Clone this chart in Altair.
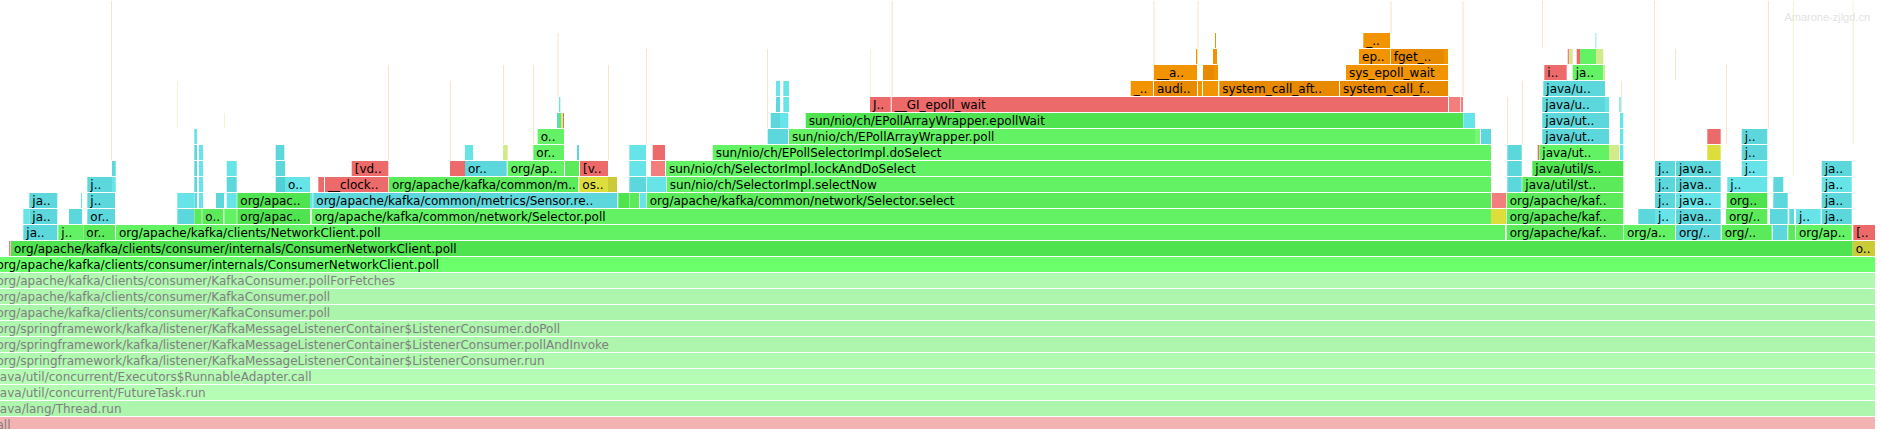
import altair as alt
import pandas as pd

# Flame graph frames per stack level: (start, end, label, kind)
level_0 = [(-6.5, 1875, "all", "root")]
level_1 = [(-6.5, 1875, "java/lang/Thread.run", "fadB")]
level_2 = [(-6.5, 1875, "java/util/concurrent/FutureTask.run", "fadD")]
level_3 = [(-6.5, 1875, "java/util/concurrent/Executors$RunnableAdapter.call", "fadD")]
level_4 = [(-6.5, 1875, "org/springframework/kafka/listener/KafkaMessageListenerContainer$ListenerConsumer.run", "fadA")]
level_5 = [(-6.5, 1875, "org/springframework/kafka/listener/KafkaMessageListenerContainer$ListenerConsumer.pollAndInvoke", "fadB")]
level_6 = [(-6.5, 1875, "org/springframework/kafka/listener/KafkaMessageListenerContainer$ListenerConsumer.doPoll", "fadB")]
level_7 = [(-6.5, 1875, "org/apache/kafka/clients/consumer/KafkaConsumer.poll", "fadC")]
level_8 = [(-6.5, 1875, "org/apache/kafka/clients/consumer/KafkaConsumer.poll", "fadB")]
level_9 = [(-6.5, 1875, "org/apache/kafka/clients/consumer/KafkaConsumer.pollForFetches", "fadA")]
level_10 = [(-6.5, 1875, "org/apache/kafka/clients/consumer/internals/ConsumerNetworkClient.poll", "top")]
level_11 = [(9, 10.5, "", "nat2"),
            (11, 1852.7, "org/apache/kafka/clients/consumer/internals/ConsumerNetworkClient.poll", "jv1"),
            (1852.7, 1875, "o..", "cpp2")]
level_12 = [(23.3, 57.3, "ja..", "in1"), (58.3, 83, "j..", "jv3"), (83.3, 115, "or..", "jv2"),
            (116, 1505, "org/apache/kafka/clients/NetworkClient.poll", "jv3"),
            (1506.7, 1623.3, "org/apache/kaf..", "jv2"), (1624, 1675, "org/a..", "jv3"),
            (1676, 1720.7, "org/..", "in1"), (1721.7, 1771.7, "org/..", "jv2"),
            (1772.7, 1787.3, "", "in1"), (1788.3, 1795, "", "jv2"),
            (1796, 1851.7, "org/ap..", "jv3"), (1853.3, 1875, "[..", "nat1")]
level_13 = [(23.3, 29, "", "in2"), (29.3, 57.3, "ja..", "in1"), (69, 82, "", "in1"),
            (87.3, 115, "or..", "in1"), (177.3, 194, "", "in1"), (194.3, 201.7, "", "jv2"),
            (202.3, 223.3, "o..", "jv2"), (224.3, 236.7, "", "jv3"), (237.3, 310, "org/apac..", "jv1"),
            (311.7, 1491, "org/apache/kafka/common/network/Selector.poll", "jv3"),
            (1491, 1506, "", "cpp1"), (1506.7, 1623.3, "org/apache/kaf..", "jv2"),
            (1638.3, 1655, "", "in1"), (1655, 1675, "j..", "in2"), (1676, 1720.7, "java..", "in1"),
            (1726, 1767.3, "org/..", "jv2"), (1770, 1787.7, "", "in1"), (1789.3, 1794, "", "in1"),
            (1796, 1820.7, "j..", "in2"), (1821.7, 1851.7, "ja..", "in1")]
level_14 = [(29.3, 57.3, "ja..", "in1"), (81, 82, "", "in2"), (87.3, 115, "j..", "in1"),
            (177.3, 194, "", "in2"), (194.3, 197, "", "in1"), (199, 203, "", "in2"),
            (216, 224, "", "in1"), (226.7, 236.7, "", "in2"), (237.3, 310, "org/apac..", "jv1"),
            (310, 312.7, "", "in2"),
            (313.3, 617.3, "org/apache/kafka/common/metrics/Sensor.re..", "in1"),
            (618.3, 629, "", "jv1"), (629.3, 639, "", "jv2"), (640, 646, "", "in2"),
            (646.7, 1491, "org/apache/kafka/common/network/Selector.select", "jv2"),
            (1491.7, 1506, "", "nat2"), (1506.7, 1623.3, "org/apache/kaf..", "jv2"),
            (1655, 1675, "j..", "in1"), (1676, 1720.7, "java..", "in2"),
            (1726.7, 1767.3, "org..", "jv1"), (1773.3, 1787.7, "", "in1"),
            (1821.7, 1851.7, "ja..", "in1")]
level_15 = [(87.3, 112, "j..", "in1"), (112, 115.7, "", "in2"), (194.3, 197, "", "in1"),
            (199, 203, "", "in2"), (226.7, 236.7, "", "in1"), (275.7, 285, "", "in3"),
            (285, 310, "o..", "in2"), (318.3, 324, "", "nat1"), (325, 388.3, "__clock..", "nat1"),
            (389, 578.3, "org/apache/kafka/common/m..", "jv2"), (579.3, 608, "os..", "cpp1"),
            (608, 617, "", "cpp2"), (629.3, 646, "", "in1"), (646.7, 666, "", "in2"),
            (666.7, 1491, "sun/nio/ch/SelectorImpl.selectNow", "jv3"),
            (1507.3, 1521.7, "", "in1"), (1522.3, 1623.3, "java/util/st..", "jv2"),
            (1655, 1675, "j..", "in1"), (1676, 1720.7, "java..", "in1"),
            (1727.3, 1767.3, "j..", "in2"), (1773.3, 1783.3, "", "in1"),
            (1821.7, 1851.7, "ja..", "in2")]
level_16 = [(112, 115.7, "", "in1"), (194.3, 197, "", "in1"), (199, 203, "", "in2"),
            (226.7, 236.7, "", "in2"), (275.7, 285, "", "in1"), (351.7, 388.3, "[vd..", "nat1"),
            (450, 465, "", "nat1"), (465, 506.7, "or..", "in1"), (507.7, 564, "org/ap..", "jv3"),
            (565, 579, "", "jv2"), (580, 608, "[v..", "nat1"), (629.3, 646, "", "in2"),
            (651, 665, "", "nat2"),
            (666, 1491, "sun/nio/ch/SelectorImpl.lockAndDoSelect", "jv3"),
            (1507.3, 1521.7, "", "in1"), (1532.3, 1623.3, "java/util/s..", "jv1"),
            (1655, 1675, "j..", "in1"), (1676, 1720.7, "java..", "in1"),
            (1741.7, 1767.3, "j..", "in2"), (1821.7, 1851.7, "ja..", "in1")]
level_17 = [(194.3, 197, "", "in1"), (199, 203, "", "in2"), (275.7, 284.3, "", "in1"),
            (465, 473, "", "in2"), (503, 507.7, "", "yg"), (533.3, 564, "or..", "jv3"),
            (577, 579, "", "in1"), (629.3, 646, "", "in2"), (652.7, 665, "", "nat1"),
            (712.7, 1491, "sun/nio/ch/EPollSelectorImpl.doSelect", "jv3"),
            (1507.3, 1521.7, "", "in1"), (1537.7, 1539, "", "nat1"),
            (1539.3, 1609, "java/ut..", "jv3"), (1609, 1619.3, "", "yg"), (1620, 1623.3, "", "in2"),
            (1707.3, 1720.7, "", "cpp1"), (1741.7, 1767.3, "j..", "in1")]
level_18 = [(194.3, 197, "", "in2"), (537.7, 564, "o..", "jv3"), (767.7, 788, "", "in1"),
            (789, 1475, "sun/nio/ch/EPollArrayWrapper.poll", "jv3"), (1475, 1480, "", "jv4"),
            (1481, 1491, "", "in1"), (1542.3, 1609, "java/ut..", "in1"), (1620, 1623.3, "", "in2"),
            (1707.3, 1720.7, "", "nat1"), (1741.7, 1767.3, "j..", "in1")]
level_19 = [(557, 559, "", "in1"), (559, 561, "", "jv2"), (561, 563, "", "yg"), (563, 564, "", "nat1"),
            (770.7, 780, "", "in1"), (780, 788.3, "", "in2"),
            (805.7, 1463, "sun/nio/ch/EPollArrayWrapper.epollWait", "jv1"),
            (1463.3, 1475, "", "in2"), (1542.3, 1609, "java/ut..", "in1"), (1620, 1623.3, "", "in2")]
level_20 = [(559, 560.3, "", "in2"), (776, 780, "", "in1"), (783.3, 789, "", "in2"),
            (870, 890.7, "J..", "nat1"), (891.7, 1448, "__GI_epoll_wait", "nat1"),
            (1449, 1460, "", "nat2"), (1460.7, 1463, "", "nat2"),
            (1542.3, 1605, "java/u..", "in1"), (1605, 1609, "", "in2"), (1619.3, 1620.7, "", "in2")]
level_21 = [(776, 780, "", "in2"), (783.3, 789, "", "in2"), (1130.7, 1153, "_..", "ker1"),
            (1154, 1197, "audi..", "ker2"), (1198, 1202, "", "ker1"), (1203, 1218, "", "ker1"),
            (1219.3, 1339, "system_call_aft..", "ker2"), (1340, 1448, "system_call_f..", "ker2"),
            (1543.3, 1605, "java/u..", "in1")]
level_22 = [(1154, 1197, "__a..", "ker1"), (1203, 1214, "", "ker2"), (1214, 1218, "", "ker1"),
            (1346, 1448, "sys_epoll_wait", "ker1"), (1544.3, 1566.7, "i..", "nat1"),
            (1572.7, 1603.3, "ja..", "jv3"), (1603.3, 1605, "", "yg")]
level_23 = [(1196, 1197.3, "", "ker1"), (1213, 1217, "", "ker1"), (1359, 1390, "ep..", "ker1"),
            (1390.7, 1444, "fget_..", "ker2"), (1444, 1448, "", "ker1"),
            (1567.7, 1569.3, "", "nat2"), (1569.3, 1572.7, "", "yg"), (1576.7, 1580, "", "nat1"),
            (1580, 1596, "", "jv3"), (1596, 1603.3, "", "yg")]
level_24 = [(1215, 1216, "", "ker1"), (1363.3, 1390, "_..", "ker1"), (1595, 1596.7, "", "inf")]

levels = [level_0, level_1, level_2, level_3, level_4, level_5, level_6, level_7, level_8,
          level_9, level_10, level_11, level_12, level_13, level_14, level_15, level_16,
          level_17, level_18, level_19, level_20, level_21, level_22, level_23, level_24]

# very thin (sub-pixel) deep stacks: x, lowest level, highest level, kind
line_x = [111, 177, 224, 388, 450, 503, 533, 557.5, 608, 646, 767, 870, 891.7, 1153.5,
          1197.5, 1390.5, 1462.5, 1507, 1522, 1542, 1621, 1654, 1675, 1726, 1768, 1793, 1852.7]
line_lo = [17, 19, 19, 17, 17, 18, 18, 21, 17, 18, 19, 21, 21, 22, 24, 25, 21, 18, 18, 24,
           20, 17, 22, 18, 19, 16, 18]
line_hi = [26, 21, 19, 22, 21, 22, 22, 24, 22, 23, 23, 23, 26, 26, 26, 26, 26, 20, 21, 26,
           21, 26, 23, 22, 26, 26, 26]
line_kind = ["fnt1", "fnt2", "fnt2", "fnt1", "fnt1", "fnt1", "fnt1", "fnt1", "fnt1", "fnt1",
             "fnt1", "fnt2", "fnt1", "fnt1", "fnt1", "fnt1", "fnt1", "fnt1", "fnt1", "fnt1",
             "fnt1", "fnt1", "fnt1", "fnt1", "fnt1", "fnt2", "fnt2"]

kind_domain = ["root", "fadA", "fadB", "fadC", "fadD", "top", "jv1", "jv2", "jv3", "jv4",
               "in1", "in2", "in3", "inf", "nat1", "nat2", "ker1", "ker2", "cpp1", "cpp2",
               "yg", "fnt1", "fnt2"]
kind_colors = ["#f4b3b3", "#b1f9b1", "#aef5ae", "#abf4ab", "#b5fcb5", "#6cff6c",
               "#50e350", "#5aea5a", "#63f263", "#79f579",
               "#5cd8dc", "#67e4e8", "#50d0d4", "#bdeff1", "#ec6a6a", "#f47e7e",
               "#f29400", "#e88a00", "#dddd3c", "#cbcb3a",
               "#d2ea8a", "#fbe2c8", "#f6f2cc"]
faded_kinds = {"root", "fadA", "fadB", "fadC", "fadD"}

rows = []
for lv, frames in enumerate(levels):
    for s, e, lab, kind in frames:
        rows.append({"level": lv, "start": s, "end": e, "label": lab, "kind": kind})
df = pd.DataFrame(rows)
df["yb"] = df["level"] + 1.0 / 16
df["yt"] = df["level"] + 1.0
df["ty"] = df["level"] + 0.25
df["tx"] = df["start"] + 3
df["tcolor"] = ["#808080" if k in faded_kinds else "#000000" for k in df["kind"]]

lines = pd.DataFrame({"x": line_x, "lo": line_lo, "hi": line_hi, "kind": line_kind})
lines["x2"] = lines["x"] + 1
lines["yb"] = lines["lo"] + 1.0 / 16
lines["yt"] = lines["hi"] + 1.0

xs = alt.Scale(domain=[0, 1881], nice=False, zero=False)
ys = alt.Scale(domain=[0.25, 27.0625], nice=False, zero=False)
cs = alt.Scale(domain=kind_domain, range=kind_colors)

line_layer = alt.Chart(lines).mark_rect(clip=True).encode(
    x=alt.X("x:Q", scale=xs, axis=None),
    x2="x2:Q",
    y=alt.Y("yb:Q", scale=ys, axis=None),
    y2="yt:Q",
    color=alt.Color("kind:N", scale=cs, legend=None),
)

rect_layer = alt.Chart(df).mark_rect(clip=True).encode(
    x=alt.X("start:Q", scale=xs, axis=None),
    x2="end:Q",
    y=alt.Y("yb:Q", scale=ys, axis=None),
    y2="yt:Q",
    color=alt.Color("kind:N", scale=cs, legend=None),
)

text_layer = alt.Chart(df[df["label"] != ""]).mark_text(
    clip=True, align="left", baseline="alphabetic", font="DejaVu Sans", fontSize=12
).encode(
    x=alt.X("tx:Q", scale=xs, axis=None),
    y=alt.Y("ty:Q", scale=ys, axis=None),
    text="label:N",
    color=alt.Color("tcolor:N", scale=None),
)

wm = alt.Chart(pd.DataFrame({"t": ["Amarone-zjlgd.cn"]})).mark_text(
    align="right", baseline="alphabetic", font="Liberation Sans", fontSize=11, color="#e3e3e3"
).encode(
    x=alt.value(1870),
    y=alt.value(21),
    text="t:N",
)

chart = alt.layer(line_layer, rect_layer, text_layer, wm).properties(
    width=1881, height=429, padding=0, autosize=alt.AutoSizeParams(type="none"),
    background="white",
).configure_view(stroke=None)

chart.save("out.html", embed_options={"renderer": "svg", "actions": False})
